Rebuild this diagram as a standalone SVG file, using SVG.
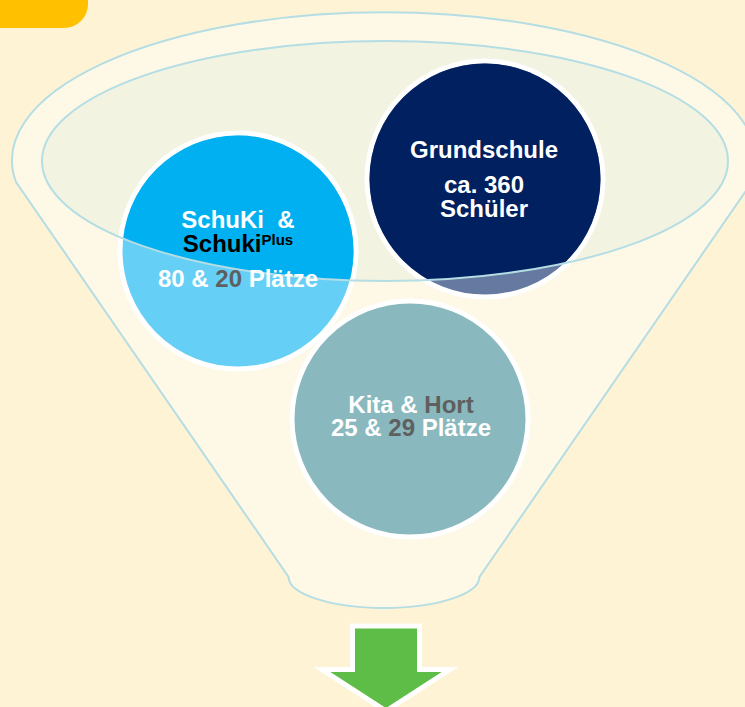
<svg xmlns="http://www.w3.org/2000/svg" width="745" height="707" viewBox="0 0 745 707">
  <style>
    .lbl { font-family: "Liberation Sans", Arial, sans-serif; font-weight: bold; font-size: 24px; fill: #ffffff; text-anchor: middle; }
    .dk { fill: #000000; }
    .gr { fill: #5f5f5f; }
    .ring { stroke: #ffffff; stroke-width: 5; }
    .edge { fill: none; stroke: #b4dde4; stroke-width: 2; }
  </style>
  <defs>
    <clipPath id="inner">
      <ellipse cx="385" cy="161" rx="343" ry="120"/>
    </clipPath>
  </defs>
  <rect width="745" height="707" fill="#fef3d5"/>
  <path d="M0,0 H88 V4 A24,24 0 0 1 64,28 H0 Z" fill="#ffc000"/>
  <g id="funnel">
    <path d="M16,182 A372,148 0 1 1 752,182 L479.4,577 A95.4,31 0 0 1 288.6,577 Z" fill="#fef8e7" stroke="#b4dde4" stroke-width="2"/>
    <ellipse cx="385" cy="161" rx="343" ry="120" fill="#f2f3e1"/>
  </g>
  <g id="schuki">
    <circle cx="238" cy="251" r="118" fill="#66cff5" class="ring"/>
    <circle cx="238" cy="251" r="115.5" fill="#00b0f0" clip-path="url(#inner)"/>
  </g>
  <g id="grundschule">
    <circle cx="485" cy="179" r="118" fill="#6679a0" class="ring"/>
    <circle cx="485" cy="179" r="115.5" fill="#002060" clip-path="url(#inner)"/>
  </g>
  <g id="kita">
    <circle cx="410" cy="419" r="118" fill="#89b8be" class="ring"/>
  </g>
  <ellipse cx="385" cy="161" rx="343" ry="120" class="edge"/>
  <g id="labels">
    <text class="lbl" x="484" y="158">Grundschule</text>
    <text class="lbl" x="484" y="193">ca. 360</text>
    <text class="lbl" x="484" y="217">Schüler</text>
    <text class="lbl" x="238" y="228" xml:space="preserve">SchuKi  &amp;</text>
    <text class="lbl dk" x="238" y="252">Schuki<tspan dy="-7" font-size="15">Plus</tspan></text>
    <text class="lbl" x="238" y="287">80 &amp; <tspan class="gr">20</tspan> Plätze</text>
    <text class="lbl" x="411" y="413">Kita &amp; <tspan class="gr">Hort</tspan></text>
    <text class="lbl" x="411" y="436">25 &amp; <tspan class="gr">29</tspan> Plätze</text>
  </g>
  <g id="connectors">
    <polygon points="352.5,626 419.5,626 419.5,669.5 450,669.5 386,711 322,669.5 352.5,669.5" fill="#5ebd46" stroke="#ffffff" stroke-width="5" stroke-miterlimit="10"/>
  </g>
</svg>
